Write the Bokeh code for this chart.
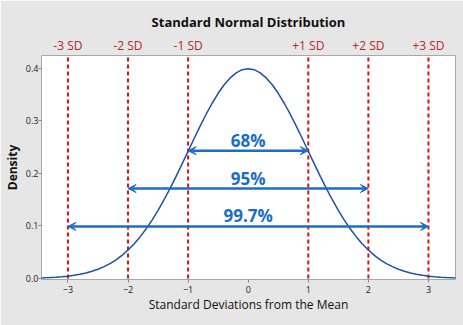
from bokeh.plotting import figure
from bokeh.models import Range1d, LinearAxis, FixedTicker, Arrow, VeeHead, Label, NumeralTickFormatter
from bokeh.embed import file_html
from bokeh.resources import INLINE

# Data: standard normal density
xs = [-3.5, -3.4, -3.3, -3.2, -3.1, -3.0, -2.9, -2.8, -2.7, -2.6, -2.5, -2.4, -2.3, -2.2, -2.1,
      -2.0, -1.9, -1.8, -1.7, -1.6, -1.5, -1.4, -1.3, -1.2, -1.1, -1.0, -0.9, -0.8, -0.7, -0.6,
      -0.5, -0.4, -0.3, -0.2, -0.1, 0.0, 0.1, 0.2, 0.3, 0.4, 0.5, 0.6, 0.7, 0.8, 0.9, 1.0, 1.1,
      1.2, 1.3, 1.4, 1.5, 1.6, 1.7, 1.8, 1.9, 2.0, 2.1, 2.2, 2.3, 2.4, 2.5, 2.6, 2.7, 2.8, 2.9,
      3.0, 3.1, 3.2, 3.3, 3.4, 3.5]
density = [0.0009, 0.0012, 0.0017, 0.0024, 0.0033, 0.0044, 0.0060, 0.0079, 0.0104, 0.0136,
           0.0175, 0.0224, 0.0283, 0.0355, 0.0440, 0.0540, 0.0656, 0.0790, 0.0940, 0.1109,
           0.1295, 0.1497, 0.1714, 0.1942, 0.2179, 0.2420, 0.2661, 0.2897, 0.3123, 0.3332,
           0.3521, 0.3683, 0.3814, 0.3910, 0.3970, 0.3989, 0.3970, 0.3910, 0.3814, 0.3683,
           0.3521, 0.3332, 0.3123, 0.2897, 0.2661, 0.2420, 0.2179, 0.1942, 0.1714, 0.1497,
           0.1295, 0.1109, 0.0940, 0.0790, 0.0656, 0.0540, 0.0440, 0.0355, 0.0283, 0.0224,
           0.0175, 0.0136, 0.0104, 0.0079, 0.0060, 0.0044, 0.0033, 0.0024, 0.0017, 0.0012,
           0.0009]

sd_positions = [-3, -2, -1, 1, 2, 3]
sd_labels = ["-3 SD", "-2 SD", "-1 SD", "+1 SD", "+2 SD", "+3 SD"]
x_ticks = [-3, -2, -1, 0, 1, 2, 3]
y_ticks = [0.0, 0.1, 0.2, 0.3, 0.4]

band_labels = ["68%", "95%", "99.7%"]
band_half_widths = [1, 2, 3]
band_heights = [0.243, 0.171, 0.099]

FONT = "Open Sans"
BG = "#e6e6e6"

p = figure(width=463, height=325, output_backend="svg", toolbar_location=None,
           x_range=Range1d(-3.44, 3.45), y_range=Range1d(-0.002, 0.424),
           title="Standard Normal Distribution",
           min_border_left=41, min_border_right=8, min_border_top=55, min_border_bottom=46)
p.background_fill_color = "white"
p.border_fill_color = BG
p.outline_line_color = "#a8a8a8"
p.grid.visible = False

p.title.align = "center"
p.title.text_font = FONT
p.title.text_font_size = "13px"
p.title.text_font_style = "bold"
p.title.text_color = "#111111"
p.title.standoff = 6

# bottom axis
xa = p.xaxis[0]
xa.ticker = FixedTicker(ticks=x_ticks)
xa.axis_line_color = None
xa.major_tick_line_color = "#888888"
xa.major_tick_out = 3
xa.major_tick_in = 0
xa.minor_tick_line_color = None
xa.major_label_standoff = 3
xa.major_label_text_font = FONT
xa.major_label_text_font_size = "9px"
xa.major_label_text_color = "#222222"
xa.axis_label = "Standard Deviations from the Mean"
xa.axis_label_text_font = FONT
xa.axis_label_text_font_size = "12px"
xa.axis_label_text_font_style = "normal"
xa.axis_label_text_color = "#111111"
xa.axis_label_standoff = 0

ya = p.yaxis[0]
ya.ticker = FixedTicker(ticks=y_ticks)
ya.formatter = NumeralTickFormatter(format="0.0")
ya.axis_line_color = None
ya.major_tick_line_color = "#888888"
ya.major_tick_out = 3
ya.major_tick_in = 0
ya.minor_tick_line_color = None
ya.major_label_standoff = 0
ya.major_label_text_font = FONT
ya.major_label_text_font_size = "9px"
ya.major_label_text_color = "#222222"
ya.axis_label = "Density"
ya.axis_label_text_font = FONT
ya.axis_label_text_font_size = "12px"
ya.axis_label_text_font_style = "bold"
ya.axis_label_text_color = "#111111"
ya.axis_label_standoff = 2

# top axis with SD labels
top = LinearAxis(ticker=FixedTicker(ticks=sd_positions),
                 major_label_overrides={v: s for v, s in zip(sd_positions, sd_labels)})
top.axis_line_color = None
top.major_tick_line_color = None
top.major_tick_out = 0
top.major_tick_in = 0
top.minor_tick_line_color = None
top.minor_tick_out = 0
top.major_label_text_font = FONT
top.major_label_text_font_size = "12px"
top.major_label_text_color = "#b02a2a"
top.major_label_standoff = 2
p.add_layout(top, "above")

# dashed SD lines
for xv in sd_positions:
    p.line([xv, xv], [0, 0.424], line_color="#e01010", line_width=2, line_dash="4 3")

# curve
p.line(xs, density, line_color="#1f4fa8", line_width=1.5)

# arrows and labels
for lab, hw, h in zip(band_labels, band_half_widths, band_heights):
    p.add_layout(Arrow(x_start=-hw, y_start=h, x_end=hw, y_end=h,
                       line_color="#1b6ec2", line_width=2.5,
                       start=VeeHead(size=8, fill_color="#1b6ec2", line_color="#1b6ec2", line_width=1),
                       end=VeeHead(size=8, fill_color="#1b6ec2", line_color="#1b6ec2", line_width=1)))
    p.add_layout(Label(x=0, y=h, text=lab, text_align="center", text_baseline="bottom",
                       y_offset=-1, text_font=FONT, text_font_size="17px",
                       text_font_style="bold", text_color="#1b6ec2"))

open("out.html", "w").write(file_html(p, INLINE))
